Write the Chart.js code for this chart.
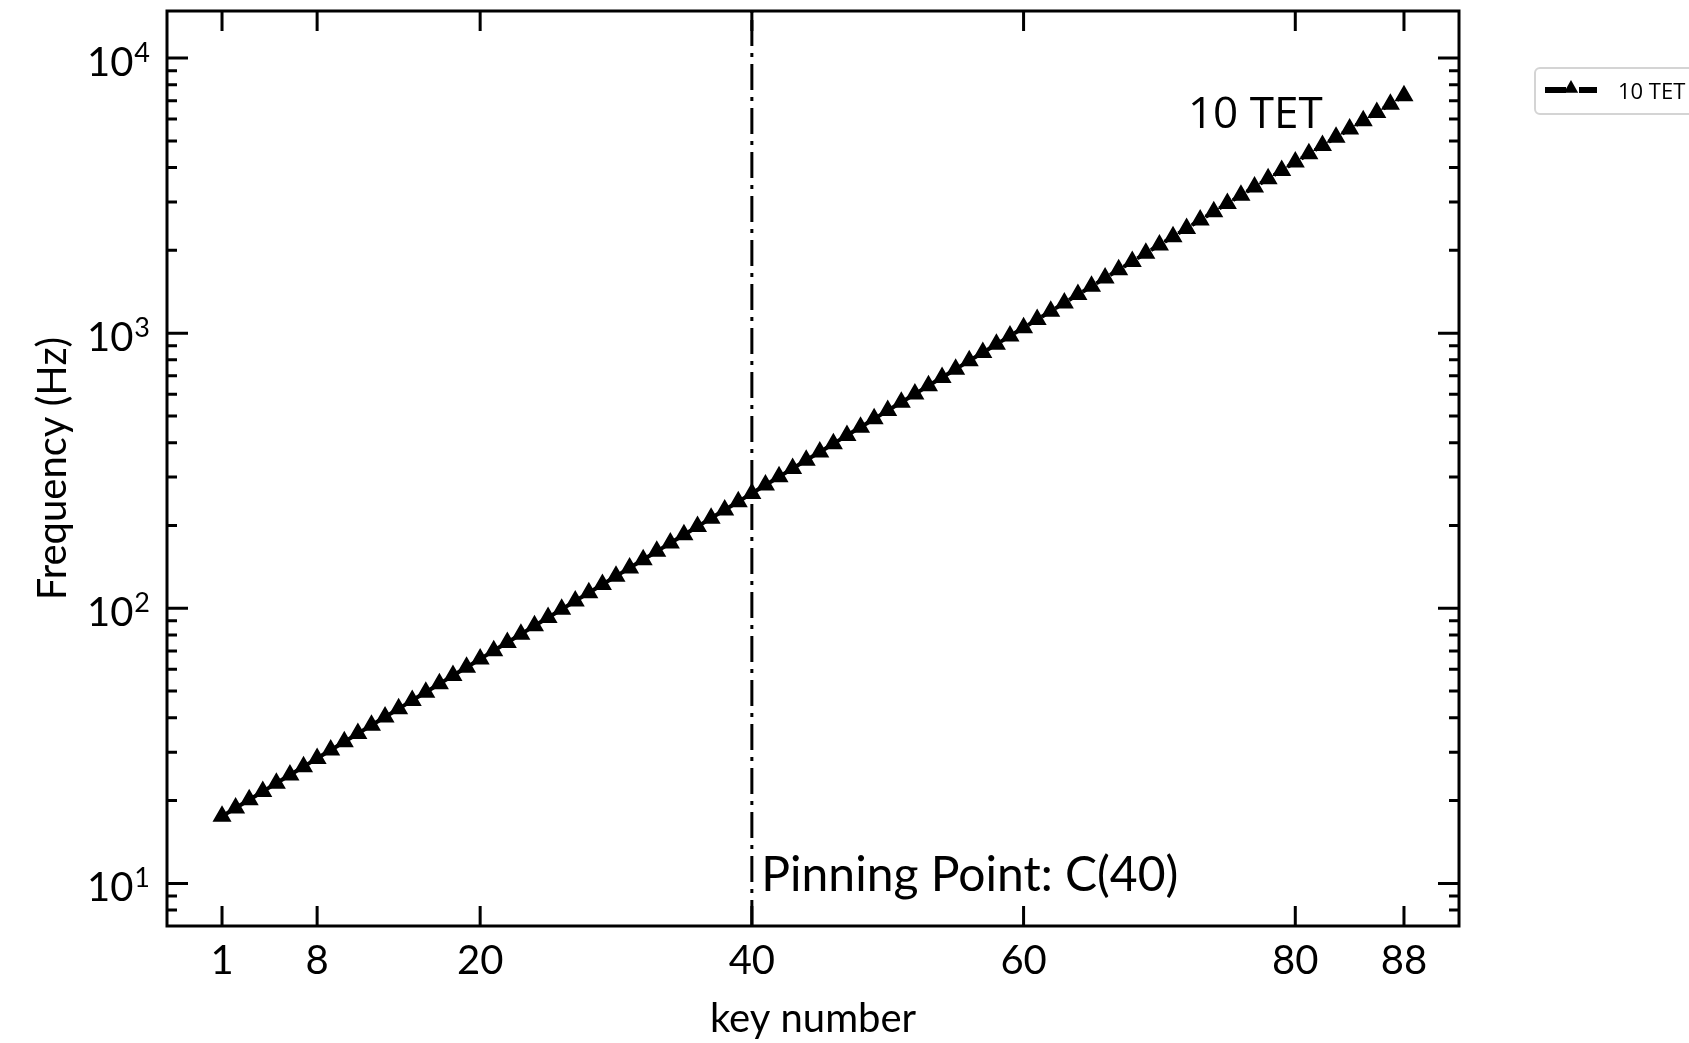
<!DOCTYPE html>
<html>
<head>
<meta charset="utf-8">
<script src="https://cdn.jsdelivr.net/npm/chart.js@4.4.0/dist/chart.umd.min.js"></script>
<style>
  body { margin: 0; background: #fff; }
  #wrap { width: 1689px; height: 1043px; }
</style>
</head>
<body>
<div id="wrap"><canvas id="tetChart" width="1689" height="1043"></canvas></div>
<script>
// piano key numbers 1..88
const keyNumbers = [
  1, 2, 3, 4, 5, 6, 7, 8, 9, 10, 11, 12, 13, 14, 15, 16, 17, 18, 19, 20,
  21, 22, 23, 24, 25, 26, 27, 28, 29, 30, 31, 32, 33, 34, 35, 36, 37, 38, 39, 40,
  41, 42, 43, 44, 45, 46, 47, 48, 49, 50, 51, 52, 53, 54, 55, 56, 57, 58, 59, 60,
  61, 62, 63, 64, 65, 66, 67, 68, 69, 70, 71, 72, 73, 74, 75, 76, 77, 78, 79, 80,
  81, 82, 83, 84, 85, 86, 87, 88
];

// 10 TET frequency (Hz) per key, pinned at C(40)
const freq10Tet = [
  17.53, 18.78, 20.13, 21.58, 23.13, 24.79, 26.56, 28.47, 30.51,
  32.70, 35.05, 37.57, 40.26, 43.15, 46.25, 49.57, 53.13, 56.94, 61.03,
  65.41, 70.10, 75.13, 80.53, 86.31, 92.50, 99.14, 106.26, 113.88, 122.06,
  130.82, 140.21, 150.27, 161.05, 172.61, 185.00, 198.28, 212.51, 227.77, 244.11,
  261.63, 280.41, 300.53, 322.10, 345.22, 370.00, 396.56, 425.02, 455.53, 488.22,
  523.26, 560.82, 601.06, 644.20, 690.44, 740.00, 793.12, 850.04, 911.06, 976.44,
  1046.5, 1121.6, 1202.1, 1288.4, 1380.9, 1480.0, 1586.2, 1700.1, 1822.1, 1952.9,
  2093.0, 2243.3, 2404.2, 2576.8, 2761.8, 2960.0, 3172.5, 3400.2, 3644.2, 3905.8,
  4186.1, 4486.6, 4808.5, 5153.6, 5523.5, 5920.0, 6345.0, 6800.3, 7288.5
];

const xTickValues = [1, 8, 20, 40, 60, 80, 88];
const yDecades = [10, 100, 1000, 10000];
const yExponents = ['1', '2', '3', '4'];
const yMinorValues = [8, 9, 20, 30, 40, 50, 60, 70, 80, 90, 200, 300, 400, 500, 600, 700, 800, 900,
  2000, 3000, 4000, 5000, 6000, 7000, 8000, 9000];

const pinLineX = [40, 40];
const pinLineY = [7, 14830];
const seriesLabel = '10 TET';
const pinText = 'Pinning Point: C(40)';
const pinTextAt = [40.7, 9.4];
const seriesTextAt = [72.1, 5560];

const MAIN_FONT = 'Lato, "Open Sans", sans-serif';
const ALT_FONT = '"Open Sans", "Noto Sans", sans-serif';

function drawTriangle(ctx, cx, cy, r) {
    ctx.beginPath();
    ctx.moveTo(cx, cy - r);
    ctx.lineTo(cx + r * 0.9, cy + r * 0.6);
    ctx.lineTo(cx - r * 0.9, cy + r * 0.6);
    ctx.closePath();
    ctx.fill();
}

// frame, inward ticks, y labels, text notes and legend box
const frameAndTicks = {
    id: 'frameAndTicks',
    afterDatasetsDraw(chart) {
        const { ctx, chartArea: a, scales: { x, y } } = chart;
        ctx.save();
        ctx.strokeStyle = '#000';
        ctx.fillStyle = '#000';

        ctx.lineWidth = 3;
        ctx.strokeRect(a.left, a.top, a.right - a.left, a.bottom - a.top);

        ctx.beginPath();
        xTickValues.forEach(v => {
            const px = x.getPixelForValue(v);
            ctx.moveTo(px, a.bottom); ctx.lineTo(px, a.bottom - 20);
            ctx.moveTo(px, a.top); ctx.lineTo(px, a.top + 20);
        });
        yDecades.forEach(v => {
            const py = y.getPixelForValue(v);
            ctx.moveTo(a.left, py); ctx.lineTo(a.left + 21, py);
            ctx.moveTo(a.right, py); ctx.lineTo(a.right - 21, py);
        });
        yMinorValues.forEach(v => {
            const py = y.getPixelForValue(v);
            ctx.moveTo(a.left, py); ctx.lineTo(a.left + 10, py);
            ctx.moveTo(a.right, py); ctx.lineTo(a.right - 10, py);
        });
        ctx.stroke();

        // y tick labels 10^n
        ctx.textAlign = 'left';
        ctx.textBaseline = 'alphabetic';
        yDecades.forEach((v, i) => {
            const py = y.getPixelForValue(v);
            ctx.font = '27px ' + MAIN_FONT;
            const expW = ctx.measureText(yExponents[i]).width;
            ctx.font = '40px ' + MAIN_FONT;
            const baseW = ctx.measureText('10').width;
            const right = a.left - 17;
            ctx.fillText('10', right - expW - baseW - 1, py + 18);
            ctx.font = '27px ' + MAIN_FONT;
            ctx.fillText(yExponents[i], right - expW, py + 4);
        });

        // text notes
        ctx.font = '48px ' + MAIN_FONT;
        ctx.fillText(pinText, x.getPixelForValue(pinTextAt[0]), y.getPixelForValue(pinTextAt[1]));
        ctx.font = '44px ' + ALT_FONT;
        ctx.fillText(seriesLabel, x.getPixelForValue(seriesTextAt[0]), y.getPixelForValue(seriesTextAt[1]));

        // legend box (outside, right of plot)
        const lx = a.right + 76, ly = a.top + 57;
        ctx.strokeStyle = '#d4d4d4';
        ctx.lineWidth = 2;
        ctx.beginPath();
        ctx.roundRect(lx, ly, 220, 46, 5);
        ctx.stroke();
        ctx.strokeStyle = '#000';
        ctx.lineWidth = 6;
        ctx.beginPath();
        ctx.moveTo(lx + 10, ly + 22); ctx.lineTo(lx + 31, ly + 22);
        ctx.moveTo(lx + 44, ly + 22); ctx.lineTo(lx + 62, ly + 22);
        ctx.stroke();
        drawTriangle(ctx, lx + 36, ly + 20, 8);
        ctx.font = '22px ' + ALT_FONT;
        ctx.fillText(seriesLabel, lx + 83, ly + 31);
        ctx.restore();
    }
};

const seriesPoints = keyNumbers.map((k, i) => ({ x: k, y: freq10Tet[i] }));
const pinPoints = pinLineX.map((k, i) => ({ x: k, y: pinLineY[i] }));

new Chart(document.getElementById('tetChart').getContext('2d'), {
    type: 'line',
    data: {
        datasets: [{
            label: seriesLabel,
            data: seriesPoints,
            borderColor: '#000',
            backgroundColor: '#000',
            borderWidth: 4,
            borderDash: [11, 5],
            pointStyle: 'triangle',
            pointRadius: 9,
            pointBorderWidth: 2,
            pointBackgroundColor: '#000',
            pointBorderColor: '#000',
            tension: 0
        }, {
            label: 'pin',
            data: pinPoints,
            borderColor: '#000',
            borderWidth: 3,
            borderDash: [26, 7, 4, 7],
            pointRadius: 0,
            tension: 0
        }]
    },
    options: {
        responsive: false,
        animation: false,
        layout: { padding: { top: 10, right: 230, left: 0, bottom: 0 } },
        plugins: { legend: { display: false }, tooltip: { enabled: false } },
        scales: {
            x: {
                type: 'linear', min: -3.05, max: 92.05,
                afterBuildTicks: s => { s.ticks = xTickValues.map(v => ({ value: v })); },
                afterFit: s => { s.height = 117; },
                grid: { display: false, drawTicks: false },
                border: { display: false },
                ticks: { color: '#000', font: { family: MAIN_FONT, size: 40 }, padding: 11, maxRotation: 0, autoSkip: false },
                title: { display: true, text: 'key number', color: '#000', font: { family: MAIN_FONT, size: 40 }, padding: { top: 0, bottom: 0 } }
            },
            y: {
                type: 'logarithmic', min: 7, max: 14830,
                afterFit: s => { s.width = 167; },
                grid: { display: false, drawTicks: false },
                border: { display: false },
                ticks: { display: false },
                title: { display: true, text: 'Frequency (Hz)', color: '#000', font: { family: MAIN_FONT, size: 40 }, padding: { top: 29, bottom: 0 } }
            }
        }
    },
    plugins: [frameAndTicks]
});
</script>
</body>
</html>
